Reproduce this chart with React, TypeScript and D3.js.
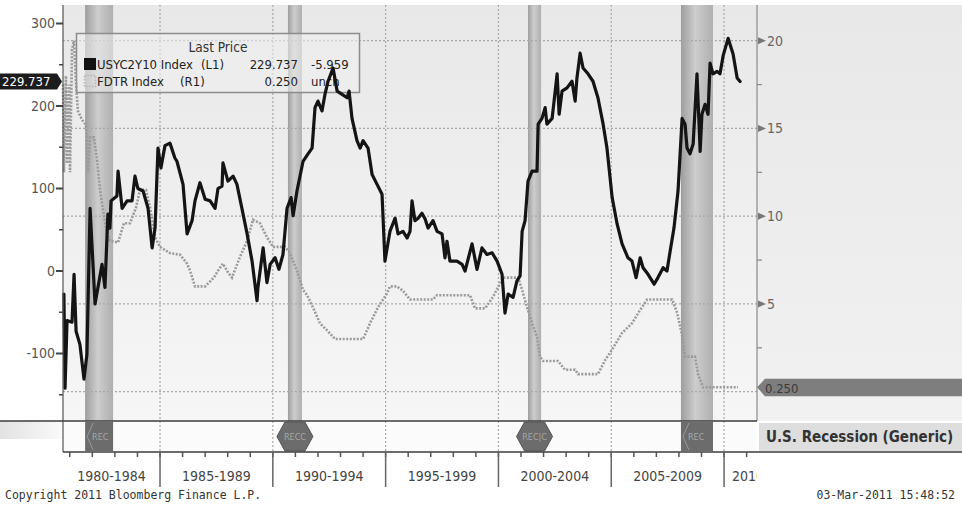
import React from 'react';
import * as d3 from 'd3';

// USYC2Y10 Index (2y-10y spread, bp) — left axis
const spreadDates = [
  1980.74, 1980.79, 1980.88, 1981.10, 1981.19, 1981.28, 1981.45, 1981.63, 1981.76, 1981.90,
  1982.12, 1982.43, 1982.56, 1982.69, 1982.78, 1982.83, 1983.09, 1983.14, 1983.32, 1983.54,
  1983.76, 1983.89, 1984.02, 1984.25, 1984.47, 1984.65, 1984.78, 1984.91, 1985.04, 1985.22,
  1985.44, 1985.66, 1985.75, 1986.02, 1986.20, 1986.42, 1986.55, 1986.77, 1987.00, 1987.22,
  1987.44, 1987.57, 1987.75, 1987.79, 1988.01, 1988.24, 1988.41, 1988.63, 1988.86, 1989.08,
  1989.30, 1989.34, 1989.57, 1989.74, 1989.88, 1990.10, 1990.27, 1990.45, 1990.63, 1990.81,
  1990.90, 1991.07, 1991.34, 1991.56, 1991.74, 1991.87, 1992.00, 1992.18, 1992.31, 1992.45,
  1992.67, 1992.85, 1993.07, 1993.29, 1993.38, 1993.51, 1993.73, 1993.87, 1994.00, 1994.22,
  1994.40, 1994.62, 1994.84, 1994.97, 1995.19, 1995.42, 1995.55, 1995.77, 1995.95, 1996.08,
  1996.17, 1996.30, 1996.44, 1996.61, 1996.75, 1996.88, 1997.10, 1997.28, 1997.50, 1997.63,
  1997.72, 1997.85, 1998.16, 1998.39, 1998.52, 1998.83, 1999.05, 1999.27, 1999.49, 1999.72,
  1999.94, 2000.16, 2000.29, 2000.43, 2000.65, 2000.82, 2000.96, 2001.05, 2001.18, 2001.31,
  2001.49, 2001.71, 2001.76, 2001.93, 2002.07, 2002.15, 2002.38, 2002.60, 2002.69, 2002.82,
  2003.04, 2003.26, 2003.40, 2003.48, 2003.62, 2003.75, 2003.97, 2004.19, 2004.41, 2004.64,
  2004.81, 2005.04, 2005.26, 2005.48, 2005.74, 2005.92, 2006.10, 2006.28, 2006.41, 2006.63,
  2006.90, 2007.07, 2007.30, 2007.47, 2007.61, 2007.78, 2007.96, 2008.14, 2008.27, 2008.36,
  2008.49, 2008.63, 2008.80, 2008.94, 2009.02, 2009.16, 2009.29, 2009.38, 2009.51, 2009.69,
  2009.82, 2009.96, 2010.18, 2010.40, 2010.58, 2010.71,
];
const spreadValues = [
  -28, -142, -60, -62, -4, -73, -89, -131, -101, 76,
  -40, 8, -20, 69, 52, 85, 91, 121, 76, 85,
  85, 115, 100, 97, 76, 28, 52, 149, 125, 152,
  155, 137, 133, 105, 45, 61, 85, 107, 87, 85,
  76, 100, 103, 131, 109, 115, 105, 76, 45, 12,
  -36, -20, 28, -14, 8, 16, 2, 20, 76, 89,
  67, 97, 133, 142, 149, 198, 206, 194, 214, 230,
  246, 218, 214, 210, 218, 185, 158, 149, 158, 149,
  117, 105, 93, 12, 48, 64, 45, 48, 40, 48,
  85, 61, 64, 70, 63, 52, 61, 48, 45, 16,
  36, 12, 12, 8, 0, 33, 2, 28, 20, 22,
  12, -4, -51, -28, -32, -12, -6, 48, 61, 109,
  121, 121, 178, 185, 198, 178, 185, 239, 190, 218,
  222, 230, 206, 234, 264, 246, 239, 230, 210, 178,
  149, 89, 57, 33, 16, 12, -8, 16, 4, -4,
  -16, -8, 4, 0, 24, 52, 97, 185, 178, 149,
  142, 154, 239, 145, 190, 202, 190, 252, 239, 242,
  239, 261, 282, 263, 234, 229.737,
];

// FDTR Index (Fed funds target, %) — right axis
const fdtrDates = [
  1980.70, 1980.74, 1980.83, 1980.88, 1980.97, 1981.01, 1981.10, 1981.19, 1981.28, 1981.36,
  1981.54, 1981.72, 1981.81, 1981.90, 1982.07, 1982.21, 1982.34, 1982.52, 1982.65, 1982.78,
  1983.14, 1983.40, 1983.67, 1983.94, 1984.11, 1984.38, 1984.56, 1984.78, 1985.00, 1985.44,
  1985.89, 1986.20, 1986.33, 1986.55, 1987.00, 1987.39, 1987.57, 1987.79, 1988.01, 1988.19,
  1988.55, 1988.86, 1989.12, 1989.43, 1989.74, 1990.01, 1990.54, 1990.76, 1991.07, 1991.34,
  1991.52, 1991.78, 1992.09, 1992.40, 1992.76, 1994.00, 1994.31, 1994.66, 1995.06, 1995.19,
  1995.50, 1995.77, 1996.08, 1997.10, 1997.28, 1998.74, 1998.96, 1999.41, 1999.76, 2000.20,
  2000.87, 2001.05, 2001.27, 2001.49, 2001.71, 2001.84, 2001.98, 2002.64, 2002.95, 2003.40,
  2003.53, 2004.41, 2004.73, 2005.04, 2005.48, 2005.92, 2006.28, 2006.59, 2007.70, 2007.92,
  2008.14, 2008.27, 2008.71, 2008.85, 2009.07, 2010.62,
];
const fdtrValues = [
  17.5, 12.5, 18, 13, 17.5, 12.5, 19.5, 20, 17.5, 16,
  15.5, 15.2, 12.5, 14.5, 14.5, 13.2, 11.5, 10, 9, 8.6,
  8.5, 9.6, 9.6, 10.5, 11.5, 11.5, 10.5, 8.8, 8.25, 7.9,
  7.8, 7.3, 6.9, 6.0, 6.0, 6.5, 6.9, 7.3, 6.8, 6.5,
  7.7, 8.6, 9.8, 9.6, 8.8, 8.25, 8.25, 7.9, 6.9, 5.8,
  5.5, 4.8, 3.9, 3.5, 3.0, 3.0, 3.9, 4.8, 5.6, 6.0,
  6.0, 5.75, 5.25, 5.25, 5.5, 5.5, 4.75, 4.75, 5.4, 6.5,
  6.5, 5.8, 4.8, 3.9, 3.1, 2.0, 1.75, 1.75, 1.25, 1.25,
  1.0, 1.0, 1.8, 2.4, 3.35, 3.9, 4.65, 5.25, 5.25, 4.5,
  3.2, 2.0, 2.0, 1.0, 0.25, 0.25,
];

const recessionStart = [1981.68, 1990.67, 2001.31, 2008.09];
const recessionEnd = [1982.92, 1991.29, 2001.89, 2009.51];
const recessionTags = ['REC', 'RECC', 'REC|C', 'REC'];

const leftTicks = [300, 200, 100, 0, -100];
const leftMinorTicks = [250, 150, 50, -50, -150];
const rightTicks = [20, 15, 10, 5];
const rightGrid = [20, 15, 10, 5, 0];
const rightMinorTicks = [17.5, 12.5, 7.5, 2.5];
const periodStarts = [1980, 1985, 1990, 1995, 2000, 2005, 2010];
const periodLabels = ['1980-1984', '1985-1989', '1990-1994', '1995-1999', '2000-2004', '2005-2009', '2010'];
const yearTicks = d3.range(1981, 2012);

const lastSpread = 229.737;
const lastSpreadText = '229.737';
const spreadChange = '-5.959';
const lastFdtr = 0.25;
const lastFdtrText = '0.250';

const FONT = "'DejaVu Sans Condensed', 'DejaVu Sans', sans-serif";
const MONO = "'DejaVu Sans Mono', monospace";

export default function App() {
  const W = 962, H = 506;
  const L = 63, R = 757, T = 5, B = 421, SB = 452;
  const x = d3.scaleLinear().domain([1980.70, 2011.46]).range([L, R]);
  const yL = d3.scaleLinear().domain([-100, 300]).range([353.5, 23.5]);
  const yR = d3.scaleLinear().domain([0, 20]).range([391.7, 40.7]);

  const spreadLine = d3.line<number>()
    .x((_, i) => x(spreadDates[i]))
    .y((d) => yL(d))
    .curve(d3.curveLinear);
  const fdtrLine = d3.line<number>()
    .x((_, i) => x(fdtrDates[i]))
    .y((d) => yR(d))
    .curve(d3.curveLinear);

  const ySpreadLast = yL(lastSpread);
  const yFdtrLast = yR(lastFdtr);
  const stripMid = (B + SB) / 2;

  return (
    <svg width={W} height={H} style={{ position: 'absolute', left: 0, top: 0, fontFamily: FONT, fontStretch: 'condensed' }}>
      <defs>
        <linearGradient id="plotBg" x1="0" y1="0" x2="0" y2="1">
          <stop offset="0" stopColor="#e8e8e8" />
          <stop offset="1" stopColor="#f6f6f6" />
        </linearGradient>
        <linearGradient id="rightBg" x1="0" y1="0" x2="0" y2="1">
          <stop offset="0" stopColor="#e8e8e8" />
          <stop offset="1" stopColor="#f1f1f1" />
        </linearGradient>
        <linearGradient id="band" x1="0" y1="0" x2="1" y2="0">
          <stop offset="0" stopColor="#9e9e9e" />
          <stop offset="0.45" stopColor="#cdcdcd" />
          <stop offset="1" stopColor="#afafaf" />
        </linearGradient>
        <linearGradient id="leftStrip" x1="0" y1="0" x2="1" y2="0">
          <stop offset="0" stopColor="#e2e2e2" />
          <stop offset="1" stopColor="#fafafa" />
        </linearGradient>
        <clipPath id="axisClip">
          <rect x={L} y={SB} width={R - L} height={40} />
        </clipPath>
      </defs>

      <rect x={0} y={0} width={W} height={H} fill="#ffffff" />
      <rect x={L} y={T} width={R - L} height={B - T} fill="url(#plotBg)" />
      <rect x={R} y={T} width={W - R} height={B - T} fill="url(#rightBg)" />
      <rect x={0} y={B} width={L} height={18} fill="url(#leftStrip)" />
      <rect x={L} y={B} width={R - L} height={SB - B} fill="#fbfbfb" />

      {/* recession bands */}
      {recessionStart.map((s, i) => (
        <rect key={'band' + i} x={x(s)} y={T} width={x(recessionEnd[i]) - x(s)} height={B - T} fill="url(#band)" />
      ))}

      {/* gridlines */}
      {rightGrid.map((v) => (
        <line key={'hg' + v} x1={L} x2={R} y1={yR(v)} y2={yR(v)} stroke="#a8a8a8" strokeWidth={1.2} strokeDasharray="2 2" />
      ))}
      {periodStarts.slice(1).map((yr) => (
        <line key={'vg' + yr} x1={x(yr)} x2={x(yr)} y1={T} y2={SB} stroke="#a8a8a8" strokeWidth={1.2} strokeDasharray="2 2" />
      ))}

      {/* legend */}
      <rect x={76.5} y={33.5} width={283} height={59} fill="rgba(238,238,238,0.55)" stroke="#8c8c8c" strokeWidth={1.5} />
      <text x={218} y={52} textAnchor="middle" fontSize={13.5} fill="#333">Last Price</text>
      <rect x={84} y={58} width={12} height={12} fill="#111" />
      <text x={97} y={69} fontSize={13} fill="#222">USYC2Y10 Index</text>
      <text x={201} y={69} fontSize={13} fill="#222">(L1)</text>
      <text x={298} y={69} fontSize={13} fill="#222" textAnchor="end">{lastSpreadText}</text>
      <text x={311} y={69} fontSize={13} fill="#222">{spreadChange}</text>
      <rect x={84.5} y={75.5} width={11} height={11} fill="none" stroke="#b5b5b5" strokeWidth={1.5} strokeDasharray="1.5 1.5" />
      <text x={97} y={86} fontSize={13} fill="#222">FDTR Index</text>
      <text x={180} y={86} fontSize={13} fill="#222">(R1)</text>
      <text x={298} y={86} fontSize={13} fill="#222" textAnchor="end">{lastFdtrText}</text>
      <text x={311} y={86} fontSize={13} fill="#222">unch</text>

      {/* series */}
      <path d={fdtrLine(fdtrValues) || ''} fill="none" stroke="#9a9a9a" strokeWidth={2.6} strokeDasharray="2 1.5" />
      <path d={spreadLine(spreadValues) || ''} fill="none" stroke="#141414" strokeWidth={3.2} strokeLinejoin="round" strokeLinecap="round" />

      {/* left axis */}
      <line x1={L} x2={L} y1={T} y2={B} stroke="#555" strokeWidth={1.2} />
      {leftTicks.map((v) => (
        <g key={'lt' + v}>
          <line x1={L - 7} x2={L} y1={yL(v)} y2={yL(v)} stroke="#444" strokeWidth={2} />
          <text x={L - 8} y={yL(v)} dy="0.35em" textAnchor="end" fontSize={14} fill="#555">{v}</text>
        </g>
      ))}
      {leftMinorTicks.map((v) => (
        <line key={'lm' + v} x1={L - 4} x2={L} y1={yL(v)} y2={yL(v)} stroke="#444" strokeWidth={1.5} />
      ))}
      <path d={`M0,${ySpreadLast - 8} H${L - 6} L${L - 1},${ySpreadLast} L${L - 6},${ySpreadLast + 8} H0 Z`} fill="#1c1c1c" />
      <text x={2} y={ySpreadLast} dy="0.35em" fontSize={13} fill="#fff">{lastSpreadText}</text>

      {/* right axis */}
      <line x1={R} x2={R} y1={T} y2={B} stroke="#8a8a8a" strokeWidth={1.2} />
      {rightTicks.map((v) => (
        <g key={'rt' + v}>
          <path d={`M${R + 1},${yR(v) - 3.5} L${R + 9},${yR(v)} L${R + 1},${yR(v) + 3.5} Z`} fill="#777" />
          <text x={R + 10} y={yR(v)} dy="0.35em" fontSize={14} fill="#666">{v}</text>
        </g>
      ))}
      {rightMinorTicks.map((v) => (
        <line key={'rm' + v} x1={R} x2={R + 5} y1={yR(v)} y2={yR(v)} stroke="#888" strokeWidth={1.2} />
      ))}
      <path d={`M${R},${yFdtrLast} L${R + 8},${yFdtrLast - 8.5} H${W} V${yFdtrLast + 9} H${R + 8} Z`} fill="#7e7e7e" />
      <text x={R + 8} y={yFdtrLast + 1} dy="0.35em" fontSize={13} fill="#3a3a3a">{lastFdtrText}</text>

      {/* recession strip */}
      <line x1={0} x2={R} y1={B} y2={B} stroke="#3c3c3c" strokeWidth={1.5} />
      <line x1={L} x2={L} y1={B} y2={SB} stroke="#555" strokeWidth={1.2} />
      {recessionStart.map((s, i) => {
        const x0 = x(s), x1 = x(recessionEnd[i]);
        const w = x1 - x0;
        const cx = (x0 + x1) / 2;
        if (w < 20) {
          const hw = 18;
          const d = `M${cx - hw},${stripMid} L${cx - hw + 8},${B + 1} H${cx + hw - 8} L${cx + hw},${stripMid} L${cx + hw - 8},${SB - 1} H${cx - hw + 8} Z`;
          return (
            <g key={'rm' + i}>
              <path d={d} fill="#6c6c6c" stroke="#555" strokeWidth={1} />
              <text x={cx} y={stripMid} dy="0.35em" textAnchor="middle" fontSize={9} fill="#a8a8a8">{recessionTags[i]}</text>
            </g>
          );
        }
        return (
          <g key={'rm' + i}>
            <rect x={x0} y={B + 1} width={w} height={SB - B - 2} fill="#6c6c6c" />
            <path d={`M${x0 + 8},${B + 2} L${x0 + 2},${stripMid} L${x0 + 8},${SB - 2}`} fill="none" stroke="#9a9a9a" strokeWidth={1} />
            <text x={x0 + 7} y={stripMid} dy="0.35em" fontSize={9} fill="#a8a8a8">{recessionTags[i]}</text>
          </g>
        );
      })}
      <rect x={R + 2} y={B + 2} width={W - R - 2} height={SB - B - 3} fill="#dedede" />
      <text x={R + 9} y={stripMid} dy="0.36em" fontSize={15} fontWeight="bold" fill="#333">U.S. Recession (Generic)</text>

      {/* time axis */}
      <line x1={L} x2={W} y1={SB} y2={SB} stroke="#3c3c3c" strokeWidth={1.5} />
      {yearTicks.map((yr) => (
        <line key={'yt' + yr} x1={x(yr)} x2={x(yr)} y1={SB} y2={SB + 5} stroke="#555" strokeWidth={1.5} />
      ))}
      {periodStarts.slice(1).map((yr) => (
        <line key={'sep' + yr} x1={x(yr)} x2={x(yr)} y1={SB} y2={487} stroke="#666" strokeWidth={1.5} />
      ))}
      <g clipPath="url(#axisClip)">
        {periodStarts.map((yr, i) => {
          const a = Math.max(x(yr), L);
          const b = Math.min(x(yr + 5), R + 15);
          return (
            <text key={'pl' + yr} x={(a + b) / 2} y={476} dy="0.35em" textAnchor="middle" fontSize={14} fill="#444">{periodLabels[i]}</text>
          );
        })}
      </g>

      {/* footer */}
      <text x={5} y={495} dy="0.35em" fontSize={11.5} fontFamily={MONO} fill="#333">Copyright 2011 Bloomberg Finance L.P.</text>
      <text x={955} y={495} dy="0.35em" fontSize={11.5} fontFamily={MONO} textAnchor="end" fill="#333">03-Mar-2011 15:48:52</text>
    </svg>
  );
}
